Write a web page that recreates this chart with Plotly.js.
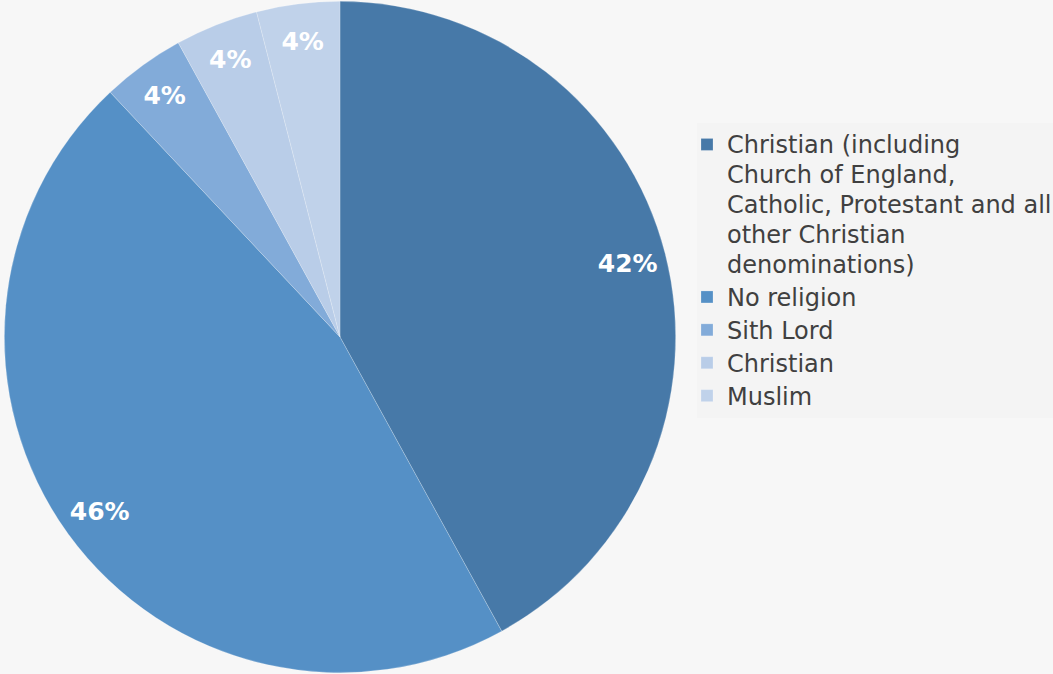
<!DOCTYPE html>
<html>
<head>
<meta charset="utf-8">
<script src="https://cdn.plot.ly/plotly-3.0.1.min.js"></script>
<style>html,body{margin:0;padding:0;background:#f7f7f7;}#chart{width:1053px;height:674px;}</style>
</head>
<body>
<div id="chart"></div>
<script>
const categories = [
  "Christian (including<br>Church of England,<br>Catholic, Protestant and all<br>other Christian<br>denominations)",
  "No religion",
  "Sith Lord",
  "Christian",
  "Muslim"
];
const values = [42, 46, 4, 4, 4];
const colors = ["#4779a8", "#5590c6", "#82abd9", "#b9cde8", "#c0d2ea"];

// legend glyphs slightly larger than the legend line pitch font
const legendLabels = categories.map(c =>
  c.split("<br>").map(line => '<span style="font-size:24px">' + line + '</span>').join("<br>")
);

const domain = {x: [2/1053, 678/1053], y: [0.002, 0.998]};

const pieTrace = {
  type: "pie",
  labels: legendLabels,
  values: values,
  sort: false,
  direction: "clockwise",
  rotation: 0,
  marker: {colors: colors, line: {color: "rgba(255,255,255,0.35)", width: 0.6}},
  textinfo: "none",
  domain: domain,
  hoverinfo: "label+percent"
};

// transparent ring that carries the percentage labels near the rim
const labelTrace = {
  type: "pie",
  labels: legendLabels,
  values: values,
  sort: false,
  direction: "clockwise",
  rotation: 0,
  hole: 0.77,
  showlegend: false,
  marker: {colors: categories.map(() => "rgba(0,0,0,0)"), line: {width: 0}},
  textinfo: "percent",
  texttemplate: "%{percent:.0%}",
  textposition: "inside",
  insidetextorientation: "horizontal",
  textfont: {family: "DejaVu Sans", size: 25, color: "#ffffff", weight: "bold"},
  domain: domain,
  hoverinfo: "skip"
};

const layout = {
  width: 1053, height: 674,
  margin: {l: 0, r: 0, t: 0, b: 0, autoexpand: false},
  paper_bgcolor: "#f7f7f7",
  plot_bgcolor: "#f7f7f7",
  showlegend: true,
  legend: {
    x: 697/1053, y: 1 - 123/674, xanchor: "left", yanchor: "top",
    bgcolor: "#f4f4f4",
    indentation: -10,
    valign: "top",
    font: {family: "DejaVu Sans", size: 23, color: "#404040"},
    traceorder: "normal"
  },
  font: {family: "DejaVu Sans"}
};

Plotly.newPlot("chart", [pieTrace, labelTrace], layout, {displayModeBar: false, staticPlot: true});
</script>
</body>
</html>
